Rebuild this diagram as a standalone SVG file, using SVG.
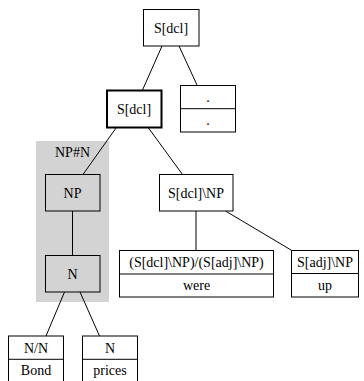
<svg xmlns="http://www.w3.org/2000/svg" width="364" height="381" viewBox="0 0 364 381">
<style>
.box{fill:#ffffff;stroke:#000000;stroke-width:1}
.gbox{fill:#d3d3d3;stroke:#000000;stroke-width:1}
.bold{fill:#ffffff;stroke:#000000;stroke-width:2}
.div{stroke:#000000;stroke-width:1}
.edge{stroke:#000000;stroke-width:1;fill:none}
text{font-family:'Liberation Serif', serif;font-size:14px;fill:#000000;text-anchor:middle}
</style>
<rect width="364" height="381" fill="#ffffff"/>
<g id="cluster-NPN">
<rect x="36" y="141" width="73" height="161" fill="#d3d3d3"/>
<text x="72.5" y="156.5">NP#N</text>
</g>
<g id="connectors">
<line class="edge" x1="162" y1="46" x2="142.5" y2="90"/>
<line class="edge" x1="179" y1="46" x2="197" y2="85"/>
<line class="edge" x1="116" y1="128" x2="83" y2="174.5"/>
<line class="edge" x1="148.5" y1="128" x2="182.5" y2="174.5"/>
<line class="edge" x1="72.5" y1="211" x2="72.5" y2="255"/>
<line class="edge" x1="64.5" y1="292" x2="46" y2="336"/>
<line class="edge" x1="80" y1="292" x2="99.5" y2="336"/>
<line class="edge" x1="196" y1="211" x2="196" y2="250"/>
<line class="edge" x1="225.5" y1="211" x2="291" y2="250"/>
</g>
<g id="node-root">
<rect class="box" x="143.5" y="9.5" width="55.5" height="36.5"/>
<text x="171" y="32.5">S[dcl]</text>
</g>
<g id="node-sdcl">
<rect class="bold" x="107" y="90.5" width="54.5" height="37"/>
<text x="134" y="113.5">S[dcl]</text>
</g>
<g id="node-period">
<rect class="box" x="180.5" y="85.5" width="55" height="46.5"/>
<line class="div" x1="180.5" y1="108.7" x2="235.5" y2="108.7"/>
<text x="208" y="101.5">.</text>
<text x="208" y="124.5">.</text>
</g>
<g id="node-NP">
<rect class="gbox" x="45.5" y="174.5" width="54.5" height="36.5"/>
<text x="72.5" y="197.5">NP</text>
</g>
<g id="node-N">
<rect class="gbox" x="45.5" y="255.5" width="54.5" height="36.5"/>
<text x="72.5" y="278.5">N</text>
</g>
<g id="node-sdclnp">
<rect class="box" x="159.5" y="174.5" width="73.5" height="36.5"/>
<text x="196" y="197.5">S[dcl]\NP</text>
</g>
<g id="node-were">
<rect class="box" x="119.5" y="250.5" width="154" height="46.5"/>
<line class="div" x1="119.5" y1="274" x2="273.5" y2="274"/>
<text x="196.5" y="267">(S[dcl]\NP)/(S[adj]\NP)</text>
<text x="196.5" y="290">were</text>
</g>
<g id="node-up">
<rect class="box" x="291.5" y="250.5" width="67" height="46.5"/>
<line class="div" x1="291.5" y1="273.5" x2="358.5" y2="273.5"/>
<text x="325" y="267">S[adj]\NP</text>
<text x="325" y="290">up</text>
</g>
<g id="node-bond">
<rect class="box" x="8.5" y="336" width="55" height="47"/>
<line class="div" x1="8.5" y1="359.3" x2="63.5" y2="359.3"/>
<text x="36" y="352.5">N/N</text>
<text x="36" y="375">Bond</text>
</g>
<g id="node-prices">
<rect class="box" x="82.5" y="336" width="55" height="47"/>
<line class="div" x1="82.5" y1="359.3" x2="137.5" y2="359.3"/>
<text x="110" y="352.5">N</text>
<text x="110" y="375">prices</text>
</g>
</svg>
